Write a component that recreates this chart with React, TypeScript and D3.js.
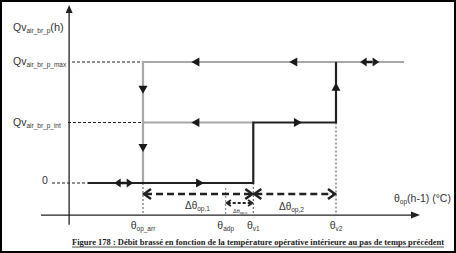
import React from 'react';
import * as d3 from 'd3';

// x tick positions (temperature, arbitrary units) and labels
const thetaNames = ['op_arr', 'adp', 'v1', 'v2'];
const thetaValues = [19, 22, 23, 26];
// flow levels
const flowValues = [0, 1, 2];
const flowNames = ['0', 'air_br_p_int', 'air_br_p_max'];

// rising path (black)
const risingTheta = [17, 23, 23, 26, 26];
const risingFlow = [0, 0, 1, 1, 2];
// falling paths (gray)
const fallMaxTheta = [28.47, 19, 19];
const fallMaxFlow = [2, 2, 0];
const fallIntTheta = [23, 19];
const fallIntFlow = [1, 1];

// direction markers: theta, flow, direction
const markTheta = [20.9, 24.45, 27.22, 19, 19, 20.9, 18.3, 21.07, 24.62, 26];
const markFlow = [2, 2, 2, 1.54, 0.58, 1, 0, 0, 1, 1.59];
const markDir = ['L', 'L', 'LR', 'D', 'D', 'L', 'LR', 'R', 'R', 'U'];

const W = 456, H = 253;

export default function App() {
  const x = d3.scaleLinear().domain([19, 26]).range([143, 336]);
  const y = d3.scaleLinear().domain([0, 2]).range([183, 62]);
  const axisX = x(16.32);
  const axisY = y(-0.53);
  const line = d3.line<[number, number]>().x(d => x(d[0])).y(d => y(d[1]));
  const rising = line(risingTheta.map((t, i) => [t, risingFlow[i]]));
  const fallMax = line(fallMaxTheta.map((t, i) => [t, fallMaxFlow[i]]));
  const fallInt = line(fallIntTheta.map((t, i) => [t, fallIntFlow[i]]));

  const tri = (cx: number, cy: number, dir: string) => {
    const L = 8, h = 4.5;
    if (dir === 'L') return `M${cx - L / 2},${cy} L${cx + L / 2},${cy - h} L${cx + L / 2},${cy + h} Z`;
    if (dir === 'R') return `M${cx + L / 2},${cy} L${cx - L / 2},${cy - h} L${cx - L / 2},${cy + h} Z`;
    if (dir === 'U') return `M${cx},${cy - L / 2} L${cx - h},${cy + L / 2} L${cx + h},${cy + L / 2} Z`;
    if (dir === 'D') return `M${cx},${cy + L / 2} L${cx - h},${cy - L / 2} L${cx + h},${cy - L / 2} Z`;
    // LR : ◄─►
    return `M${cx - 9.5},${cy} L${cx - 3},${cy - h} L${cx - 3},${cy + h} Z ` +
      `M${cx + 9.5},${cy} L${cx + 3},${cy - h} L${cx + 3},${cy + h} Z ` +
      `M${cx - 3.5},${cy - 1.2} L${cx + 3.5},${cy - 1.2} L${cx + 3.5},${cy + 1.2} L${cx - 3.5},${cy + 1.2} Z`;
  };

  const chev = (tx: number, ty: number, dir: 'L' | 'R', s = 1) => {
    const d = dir === 'L' ? 1 : -1;
    return `M${tx + d * 7 * s},${ty - 5 * s} L${tx},${ty} L${tx + d * 7 * s},${ty + 5 * s}`;
  };

  const xA = x(19), xAdp = x(22), xV1 = x(23), xV2 = x(26);
  const dimY = 194;
  const smallY = 203;
  const sans = "'Liberation Sans', Arial, sans-serif";
  const tc = '#333';

  const QLabel = ({ yy, sub, extra }: { yy: number; sub: string; extra?: string }) => (
    <text x={13} y={yy} fontFamily={sans} fontSize={10.5} fill={tc}>
      Qv<tspan fontSize={6.5} dy={2}>{sub}</tspan>
      {extra ? <tspan dy={-2} fontSize={11}>{extra}</tspan> : null}
    </text>
  );

  const ThetaLabel = ({ cx, yy, sub, size = 10.5, subSize = 6.5 }: any) => (
    <text x={cx} y={yy} textAnchor="middle" fontFamily={sans} fontSize={size} fill={tc}>
      θ<tspan fontSize={subSize} dy={2}>{sub}</tspan>
    </text>
  );

  return (
    <svg width={W} height={H} style={{ position: 'fixed', left: 0, top: 0, background: '#fff' }}>
      <rect x={1} y={1} width={W - 2} height={H - 2} fill="#fff" stroke="#000" strokeWidth={2} />

      {/* axes */}
      <line x1={axisX} y1={y(-0.69)} x2={axisX} y2={12} stroke="#222" strokeWidth={1.3} />
      <path d={`M${axisX},5 L${axisX - 3.5},13 L${axisX + 3.5},13 Z`} fill="#222" />
      <line x1={41} y1={axisY} x2={412} y2={axisY} stroke="#222" strokeWidth={1.3} />
      <path d={`M420,${axisY} L411,${axisY - 3.5} L411,${axisY + 3.5} Z`} fill="#222" />

      {/* label dashed lines */}
      <line x1={72} y1={y(2)} x2={xA} y2={y(2)} stroke="#222" strokeWidth={1} strokeDasharray="3,2" />
      <line x1={68} y1={y(1)} x2={xA} y2={y(1)} stroke="#222" strokeWidth={1} strokeDasharray="3,2" />
      <line x1={52} y1={y(0)} x2={x(17)} y2={y(0)} stroke="#222" strokeWidth={1} strokeDasharray="3,2" />

      {/* vertical dotted lines */}
      <line x1={xA} y1={y(0)} x2={xA} y2={axisY} stroke="#555" strokeWidth={1} strokeDasharray="2,2" />
      <line x1={xAdp} y1={188} x2={xAdp} y2={axisY} stroke="#777" strokeWidth={1} strokeDasharray="2,2" />
      <line x1={xV1} y1={y(0)} x2={xV1} y2={axisY} stroke="#555" strokeWidth={1} strokeDasharray="2,2" />
      <line x1={xV2} y1={y(1)} x2={xV2} y2={axisY} stroke="#444" strokeWidth={1} strokeDasharray="2,2" />

      {/* curves */}
      <path d={fallMax || ''} fill="none" stroke="#a8a8a8" strokeWidth={2.2} />
      <path d={fallInt || ''} fill="none" stroke="#a8a8a8" strokeWidth={2.2} />
      <path d={rising || ''} fill="none" stroke="#222" strokeWidth={2.2} />

      {markTheta.map((t, i) => (
        <path key={i} d={tri(x(t), y(markFlow[i]), markDir[i])} fill="#1a1a1a" />
      ))}

      {/* dimension arrows */}
      <line x1={xA + 2} y1={dimY} x2={xV1 - 2} y2={dimY} stroke="#222" strokeWidth={2.5} strokeDasharray="7,4" />
      <path d={chev(xA + 1, dimY, 'L')} fill="none" stroke="#222" strokeWidth={2.5} />
      <path d={chev(xV1 - 1, dimY, 'R')} fill="none" stroke="#222" strokeWidth={2.5} />
      <line x1={xV1 + 2} y1={dimY} x2={xV2 - 2} y2={dimY} stroke="#222" strokeWidth={2.5} strokeDasharray="7,4" />
      <path d={chev(xV1 + 1, dimY, 'L')} fill="none" stroke="#222" strokeWidth={2.5} />
      <path d={chev(xV2 - 1, dimY, 'R')} fill="none" stroke="#222" strokeWidth={2.5} />
      <line x1={xAdp + 2} y1={smallY} x2={xV1 - 2} y2={smallY} stroke="#222" strokeWidth={1.8} strokeDasharray="3,2" />
      <path d={chev(xAdp + 1, smallY, 'L', 0.6)} fill="none" stroke="#222" strokeWidth={1.8} />
      <path d={chev(xV1 - 1, smallY, 'R', 0.6)} fill="none" stroke="#222" strokeWidth={1.8} />

      {/* dimension labels */}
      <text x={185} y={209} fontFamily={sans} fontSize={10} fill={tc}>
        Δθ<tspan fontSize={6.5} dy={2}>op,1</tspan>
      </text>
      <text x={279} y={210} fontFamily={sans} fontSize={10} fill={tc}>
        Δθ<tspan fontSize={6.5} dy={2}>op,2</tspan>
      </text>
      <text x={233} y={213} fontFamily={sans} fontSize={5.5} fill={tc}>
        Δθ<tspan fontSize={4} dy={1}>op,s</tspan>
      </text>

      {/* y labels */}
      <QLabel yy={31} sub="air_br_p" extra="(h)" />
      <QLabel yy={65} sub={flowNames[2]} />
      <QLabel yy={126} sub={flowNames[1]} />
      <text x={45} y={184} textAnchor="middle" fontFamily={sans} fontSize={10.5} fill={tc}>{flowNames[0]}</text>

      {/* x labels */}
      {thetaValues.map((t, i) => (
        <ThetaLabel key={i} cx={x(t)} yy={229} sub={thetaNames[i]} />
      ))}
      <text x={394} y={202} fontFamily={sans} fontSize={10.5} fill={tc}>
        θ<tspan fontSize={6.5} dy={2}>op</tspan><tspan dy={-2}>(h-1) (°C)</tspan>
      </text>

      {/* caption */}
      <text x={72} y={245} fontFamily="'Liberation Serif', 'Times New Roman', serif" fontWeight="bold" fontSize={8.3}
        fill="#222" textLength={372} lengthAdjust="spacingAndGlyphs">
        Figure 178 : Débit brassé en fonction de la température opérative intérieure au pas de temps précédent
      </text>
      <line x1={72} y1={247} x2={444} y2={247} stroke="#222" strokeWidth={0.8} />
    </svg>
  );
}
